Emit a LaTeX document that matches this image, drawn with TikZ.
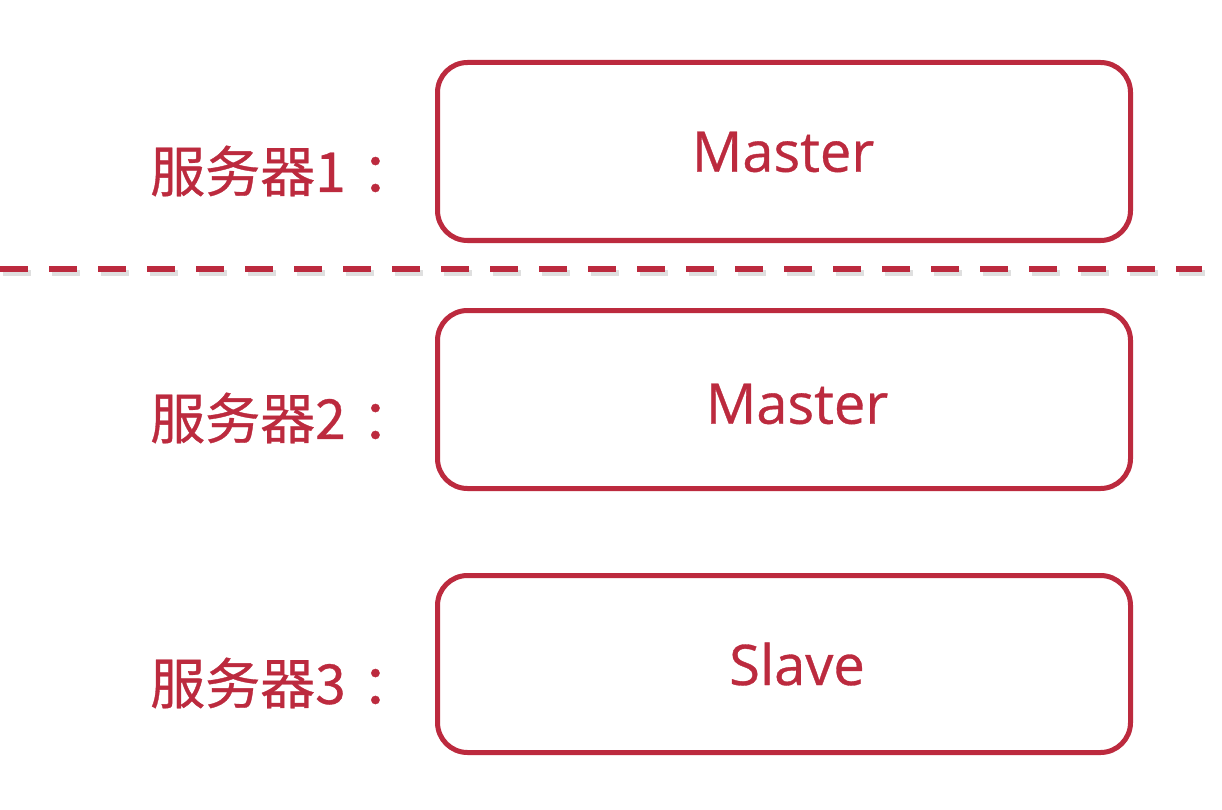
\documentclass[tikz,border=0pt]{standalone}
\usepackage{fontspec}
\newfontfamily\cjk[FakeBold=0.6]{Noto Sans CJK SC}
\newfontfamily\latin[FakeBold=0.6]{Open Sans}
\definecolor{srvred}{RGB}{188,42,62}
\begin{document}
\begin{tikzpicture}[x=1pt,y=-1pt,
  srvbox/.style={draw=srvred,line width=5pt,rounded corners=30pt,fill=white},
  boxtext/.style={text=srvred,font=\latin\fontsize{56}{60}\selectfont,inner sep=0pt},
  srvlabel/.style={text=srvred,font=\cjk\fontsize{55}{60}\selectfont,inner sep=0pt,anchor=west}]
\useasboundingbox[fill=white] (0,0) rectangle (1222,810);
% separator with soft shadow
\draw[gray!35,line width=6pt,dash pattern=on 28pt off 21pt,opacity=0.7] (3,273) -- (1205,273);
\draw[srvred,line width=6pt,dash pattern=on 28pt off 21pt] (0,268.5) -- (1202,268.5);
% boxes
\draw[srvbox] (437.5,62.5) rectangle (1130.5,240.5);
\draw[srvbox] (437.5,310.5) rectangle (1130.5,488.5);
\draw[srvbox] (437.5,575.5) rectangle (1130.5,752.5);
\node[boxtext] (m1) at (783,152) {Master};
\node[boxtext] (m2) at (797,404) {Master};
\node[boxtext] (s3) at (797,664) {Slave};
% labels
\node[srvlabel] (l1) at (150,171) {服务器1\kern16pt：};
\node[srvlabel] (l2) at (150,418) {服务器2\kern16pt：};
\node[srvlabel] (l3) at (150,683) {服务器3\kern16pt：};
\end{tikzpicture}
\end{document}
